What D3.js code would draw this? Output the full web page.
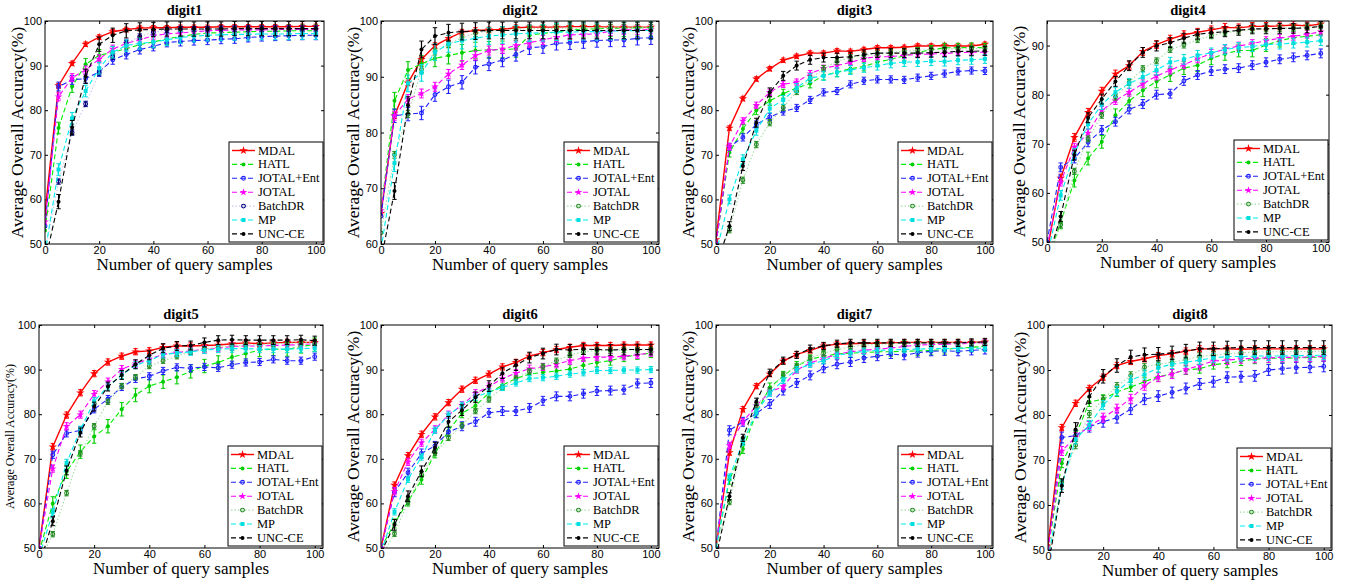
<!DOCTYPE html>
<html>
<head>
<meta charset="utf-8">
<script src="https://d3js.org/d3.v7.min.js"></script>
<style>
    body { margin: 0; background: #fff; }
    svg { display: block; }
</style>
</head>
<body>
<svg width="1346" height="580"></svg>
<script>
var samples = [0, 5, 10, 15, 20, 25, 30, 35, 40, 45, 50, 55, 60, 65, 70, 75, 80, 85, 90, 95, 100];
var xTicks = [0, 20, 40, 60, 80, 100];
var methods = ["MDAL", "HATL", "JOTAL+Ent", "JOTAL", "BatchDR", "MP", "UNC-CE"];
var methods6 = ["MDAL", "HATL", "JOTAL+Ent", "JOTAL", "BatchDR", "MP", "NUC-CE"];
var titles = ["digit1", "digit2", "digit3", "digit4", "digit5", "digit6", "digit7", "digit8"];
var yDomains = [[50, 100], [60, 100], [50, 100], [50, 95], [50, 100], [50, 100], [50, 100], [50, 100]];
var yTicks = [
    [50, 60, 70, 80, 90, 100], [60, 70, 80, 90, 100], [50, 60, 70, 80, 90, 100], [50, 60, 70, 80, 90],
    [50, 60, 70, 80, 90, 100], [50, 60, 70, 80, 90, 100], [50, 60, 70, 80, 90, 100], [50, 60, 70, 80, 90, 100]
];

// rows follow methods order: MDAL, HATL, JOTAL+Ent, JOTAL, BatchDR, MP, UNC-CE
var digit1 = [
    [57, 85.5, 90.5, 94.8, 96.4, 97.6, 98.1, 98.4, 98.5, 98.5, 98.6, 98.6, 98.6, 98.7, 98.7, 98.7, 98.7, 98.7, 98.7, 98.8, 98.8],
    [53, 76, 85.3, 90.3, 92.3, 93, 93.8, 94.7, 95.3, 96, 96.5, 97, 97.3, 97.4, 97.5, 97.6, 97.7, 97.7, 97.8, 97.8, 97.8],
    [54, 85.3, 86.8, 87.1, 88.6, 91.3, 92.5, 93.6, 94.3, 95.2, 95.4, 95.6, 95.7, 95.9, 96, 96.3, 96.5, 96.6, 96.7, 96.8, 96.8],
    [55, 83, 87.3, 89, 91.5, 93.7, 95, 95.8, 96.7, 97.1, 97.3, 97.6, 97.8, 97.9, 98, 98, 98, 98.1, 98.1, 98.1, 98.1],
    [48, 64, 75, 81.4, 88.3, 92, 95, 96.5, 97.5, 98, 98.2, 98.2, 98.2, 98.3, 98.3, 98.3, 98.3, 98.3, 98.3, 98.3, 98.3],
    [48, 66.7, 78.2, 84.3, 89.4, 93, 94.5, 95, 95.3, 95.8, 96.3, 96.6, 96.8, 96.9, 97, 97, 97.1, 97.1, 97.1, 97.2, 97.2],
    [46, 59.5, 76.1, 87.6, 94.8, 96.8, 97.8, 98, 98.1, 98.2, 98.2, 98.2, 98.2, 98.2, 98.3, 98.3, 98.3, 98.3, 98.3, 98.3, 98.3]
];
var digit2 = [
    [65.5, 83, 88.9, 93.1, 95.6, 96.9, 98, 98.3, 98.4, 98.5, 98.8, 98.9, 98.9, 98.9, 99, 99, 99, 98.9, 98.9, 98.9, 98.9],
    [66, 85.7, 91.2, 92.3, 93.3, 93.8, 94.3, 94.7, 94.8, 94.9, 95, 97.4, 97.8, 98, 98.4, 98.5, 98.6, 98.7, 98.7, 98.8, 98.8],
    [65, 83, 83.3, 83.5, 86.8, 88.2, 89, 91.7, 92.3, 93, 94, 95.2, 95.4, 96, 96.1, 96.3, 96.5, 96.6, 96.6, 96.9, 97],
    [66, 83, 86, 87, 88.2, 90.5, 92.1, 93.8, 94.7, 95, 95.6, 96.1, 96.6, 97.1, 97.5, 97.6, 97.7, 98.2, 98.4, 98.4, 98.5],
    [62, 76, 83.3, 91.3, 94.5, 95.8, 97, 97.8, 98.2, 98.3, 98.5, 98.6, 98.6, 98.7, 98.7, 98.7, 98.8, 98.8, 98.8, 98.8, 98.8],
    [59, 74.5, 88.8, 90.7, 94.4, 95.9, 96.5, 96.9, 97.3, 97.5, 97.7, 97.8, 97.9, 98, 98, 98.1, 98.1, 98.2, 98.2, 98.3, 98.3],
    [57, 69.5, 84.9, 94.9, 97.3, 97.9, 98.1, 98.2, 98.3, 98.3, 98.3, 98.3, 98.3, 98.3, 98.3, 98.3, 98.3, 98.3, 98.3, 98.3, 98.3]
];
var digit3 = [
    [51, 76, 82.6, 87, 89.3, 91.2, 92.1, 92.8, 92.8, 93.3, 93.2, 93.6, 94, 94, 94.1, 94.4, 94.4, 94.5, 94.4, 94.4, 94.8],
    [50, 70.5, 75.8, 80, 82.1, 83.7, 85, 86, 87.8, 88.5, 89.3, 89.8, 90.8, 91.4, 92.2, 93, 93.5, 94, 94, 94.1, 94],
    [50, 71.8, 73.9, 76.8, 78.5, 79.7, 80.5, 82.3, 84, 84.3, 85.8, 86.6, 86.9, 86.9, 86.8, 87.3, 87.7, 88.2, 88.7, 88.9, 88.8],
    [50, 71.8, 77.6, 81.1, 84, 85.8, 86.3, 88.2, 89.4, 90, 90.7, 91.6, 92, 92, 92.3, 92.5, 92.6, 92.7, 92.9, 93, 93],
    [46, 53.2, 64.3, 72.3, 77.2, 80.6, 84.2, 87, 89.3, 91, 91.8, 92.3, 92.6, 93, 93.2, 93.4, 93.6, 93.7, 93.8, 93.8, 93.8],
    [48, 60, 69, 75.4, 80.4, 82.3, 85, 87.2, 87.7, 88.5, 89, 89.5, 90, 90.5, 90.8, 90.8, 91, 90.9, 91.2, 91.3, 91.5],
    [45, 54, 67.5, 77.2, 84, 87.7, 90, 91.3, 91.8, 91.8, 92, 92.5, 92.8, 92.8, 92.8, 92.8, 92.9, 93, 93.2, 93.2, 93.3]
];
var digit4 = [
    [48, 63, 71.3, 76.4, 80.7, 84.2, 85.9, 88.8, 90.2, 91.3, 92.2, 92.7, 93.2, 93.7, 93.6, 93.9, 93.9, 94, 94.2, 94, 94.4],
    [46, 54, 62.5, 67, 70.4, 75.8, 78.7, 80.9, 82.7, 84, 85.4, 86, 87.4, 88.3, 89, 89, 90.1, 91, 91.6, 91.9, 92.2],
    [50, 65.2, 67, 70.3, 72.8, 74.5, 77, 78.1, 80, 80.2, 82.8, 84, 84.8, 85.2, 85.4, 86, 86.6, 87.2, 87.6, 88, 88.4],
    [49, 62.2, 69.3, 72.2, 76.8, 78.8, 80.5, 82.2, 83.8, 85, 86.1, 87.3, 88.4, 89.3, 89.9, 90.4, 91, 91.5, 91.9, 92.3, 92.8],
    [46, 53.5, 64.4, 71, 75.8, 79.5, 82.5, 85.3, 86.9, 89.2, 90.1, 91.2, 92, 92.6, 93, 93.3, 93.4, 93.5, 93.6, 93.8, 94],
    [47, 59.5, 68, 74, 78, 80.5, 82.3, 83.6, 85, 86.6, 87.2, 88, 88.5, 89.2, 89.6, 89.8, 90.2, 90.3, 90.5, 90.7, 91],
    [46, 55.2, 67.7, 75.3, 79.1, 82.7, 85.9, 88.6, 89.9, 90.6, 91.5, 92.3, 92.6, 92.8, 93.1, 93.4, 93.4, 93.5, 93.5, 93.6, 93.9]
];
var digit5 = [
    [50, 72.7, 79.8, 84.8, 89.1, 91.7, 93, 94, 94.2, 95, 95.3, 95.3, 95.4, 95.5, 95.8, 96, 95.8, 96, 96.1, 96.1, 96.1],
    [49, 60, 67.1, 71.6, 75, 77.3, 81.1, 84.3, 86.3, 87.3, 88.3, 89.6, 90.8, 91.6, 92.8, 93.6, 94.4, 94.6, 94.5, 95.2, 95.6],
    [50, 70.9, 75.7, 76.4, 81.1, 83.4, 86.1, 87.9, 88.5, 89.7, 90.5, 90.3, 90.6, 90.4, 91.1, 91.6, 91.7, 92.3, 92, 92, 92.9],
    [50, 67.8, 77.3, 79.9, 84.5, 87.3, 90.1, 91.3, 92.4, 93.4, 93.8, 94.2, 94.5, 94.8, 95.2, 95.3, 95.3, 95.4, 95.5, 95.6, 95.8],
    [47, 53.1, 62.3, 71.2, 77.3, 82.8, 86.3, 88.3, 90.8, 92, 93, 94, 94.6, 95, 95.3, 95.5, 95.6, 95.8, 95.9, 96, 96],
    [48, 58, 69.1, 76.5, 82.9, 86.2, 88.8, 91, 92, 93.4, 93.7, 94, 94.4, 94.6, 94.7, 94.7, 94.6, 94.6, 94.6, 94.7, 94.8],
    [46, 56, 67.4, 75.9, 81.7, 86.2, 88.8, 91.2, 93.2, 94.8, 95.3, 95.4, 96.1, 96.6, 96.7, 96.6, 96.6, 96.6, 96.6, 96.7, 96.5]
];
var digit6 = [
    [50, 64.1, 70.7, 75.5, 79.4, 82.6, 85.6, 87.6, 89, 90.6, 91.6, 93, 93.8, 94.5, 95, 95.4, 95.4, 95.4, 95.5, 95.5, 95.5],
    [50, 55.5, 60.4, 65.3, 71.2, 76.3, 80.2, 81.9, 84.8, 86.5, 88, 89, 89.4, 89.7, 90.1, 91, 91.6, 92, 92.8, 93.3, 93.7],
    [50, 62.5, 66.9, 71.2, 72.9, 76, 77.3, 78.3, 80.3, 80.7, 80.7, 81.4, 83, 84, 84, 84.6, 85.2, 85.3, 85.5, 86.9, 87],
    [50, 62.7, 69.3, 73.6, 76.6, 79.9, 82, 84.7, 86.2, 88, 89.2, 90.2, 90.6, 91.2, 92, 92.6, 92.8, 92.8, 93, 93.3, 93.8],
    [48, 53.2, 60.3, 66.5, 71.3, 74.7, 77.5, 80.7, 83.3, 86, 88, 89.6, 90.7, 92, 93.3, 94, 94.3, 94.3, 94.4, 94.4, 94.4],
    [49, 58.1, 65.4, 70.4, 76.4, 79.8, 82, 83.8, 85, 86, 87, 88, 88.2, 88.5, 89, 89.3, 89.8, 89.8, 89.9, 89.9, 90],
    [49, 55.2, 61.6, 67.2, 72.5, 78.3, 80.9, 83.8, 86.3, 89.2, 91, 92.7, 93.6, 94.5, 94.4, 94.6, 94.5, 94.4, 94.5, 94.5, 94.5]
];
var digit7 = [
    [50, 71.4, 81.1, 86.3, 89, 91.9, 93.4, 94.3, 95.3, 95.7, 95.8, 95.9, 95.9, 96, 96.1, 96.1, 96.1, 96.1, 96.1, 96.1, 96.2],
    [50, 65.3, 72.2, 80.3, 86, 88.6, 90.8, 92.3, 93, 93.5, 93.7, 93.8, 94, 94, 94.1, 94.2, 94.3, 94.5, 94.8, 95, 95.2],
    [50, 76.4, 78.3, 80.2, 82.3, 85.3, 87, 88.7, 90.3, 91.2, 91.7, 92.6, 93, 93.5, 93.2, 93.8, 94.1, 94.2, 94.1, 94.3, 94.5],
    [50, 73, 78.3, 81.9, 85, 86.2, 89.9, 91.5, 92.5, 93.4, 94, 94.3, 94.6, 94.8, 95.2, 95.5, 95.6, 95.7, 95.8, 95.9, 96],
    [50, 60.3, 74, 81.9, 85.4, 88.8, 90.8, 92.6, 93.7, 94.5, 95.1, 95.5, 95.7, 95.8, 95.9, 96, 96, 96, 96, 96, 96],
    [50, 65.9, 73.7, 80.5, 84.7, 87.6, 90, 91.2, 92, 93.2, 93.7, 94.1, 94.3, 94.4, 94.5, 94.6, 94.7, 94.7, 94.8, 94.8, 94.8],
    [48, 61.6, 74.7, 82.8, 89.3, 92, 93.3, 94.7, 95.3, 95.8, 96, 96, 96, 96, 96, 96, 96, 96, 96, 96.1, 96.2]
];
var digit8 = [
    [51, 77.2, 82.6, 85.9, 88.4, 91, 91.9, 92.5, 93.2, 93.6, 94.2, 94.7, 94.7, 94.7, 94.6, 94.7, 94.7, 94.7, 94.7, 94.7, 94.7],
    [50, 69.3, 75.4, 82.9, 83.5, 85.1, 86.2, 87.4, 88.5, 89.2, 90, 90.3, 91.2, 91.5, 92, 92.4, 92.6, 92.6, 92.7, 92.8, 92.9],
    [50, 75, 75.4, 77.4, 78.5, 79.4, 81.3, 83.5, 84.2, 85, 85.9, 86.9, 87.4, 88.4, 88.5, 88.7, 90, 90.3, 90.5, 90.6, 90.8],
    [50, 72, 75.1, 77.6, 79.4, 81.4, 83.6, 86.5, 88.4, 89.1, 90.1, 91, 92, 92.2, 92.5, 92.6, 92.7, 92.8, 92.8, 92.9, 93],
    [48, 65, 73.3, 80.2, 83.5, 86.4, 88.8, 90.6, 91.3, 91.7, 92.3, 93, 93.3, 93.6, 93.8, 94, 94, 94.1, 94.1, 94.1, 94.2],
    [48, 64.5, 74.6, 77.8, 82.2, 85.3, 87.7, 89, 90.5, 91.3, 91.7, 92.2, 92.7, 93, 93, 93.1, 93.1, 93.1, 93.2, 93.2, 93.3],
    [46, 64.3, 76.8, 84.1, 88.6, 91, 92.9, 93.4, 93.5, 93.8, 94.2, 94.7, 94.7, 94.9, 95, 95, 95, 95, 95, 95, 95]
];

// error bar half-lengths, one per method, per panel
var errors = [
    [0.5, 1.3, 1, 0.9, 0.6, 1.3, 1.6],
    [0.5, 1.5, 1.2, 0.8, 0.6, 1.5, 1.5],
    [0.5, 1, 0.8, 0.7, 0.7, 1, 1],
    [0.8, 1.3, 0.9, 0.8, 0.6, 1, 1],
    [0.7, 1.5, 0.8, 0.8, 0.6, 0.8, 1],
    [0.7, 1, 1, 0.8, 0.6, 0.7, 1.2],
    [0.6, 1, 1, 0.7, 0.6, 0.7, 0.8],
    [0.7, 1, 1.2, 1, 0.8, 1, 1.5]
];

var datasets = [digit1, digit2, digit3, digit4, digit5, digit6, digit7, digit8];

// plot boxes [left, top, right, bottom]
var boxes = [
    [45, 21, 324, 244], [381, 21, 659, 244], [716, 21, 993, 244], [1047, 21, 1329, 242],
    [39, 325, 323, 548], [381, 325, 659, 548], [716, 325, 993, 548], [1048, 325, 1332, 550]
];

var lineColors = ["#ff0000", "#00ee00", "#2020ff", "#ff00ff", "#a8dca8", "#00eeee", "#000000"];
var markColors = ["#ff0000", "#00cc00", "#2020ff", "#ff00ff", "#228b22", "#00dddd", "#000000"];
var dashes = [null, "5,3", "5,3", "5,3", "1.5,2", "5,3", "5,3"];

var svg = d3.select("svg");

function marker(g, k, cx, cy, col) {
    if (k === 0) {
        g.append("path").attr("d", d3.symbol(d3.symbolStar, 22)())
            .attr("transform", "translate(" + cx + "," + cy + ")").attr("fill", col);
    } else if (k === 2 || k === 4) {
        g.append("circle").attr("cx", cx).attr("cy", cy).attr("r", 1.9)
            .attr("fill", "none").attr("stroke", col).attr("stroke-width", 1.1);
    } else if (k === 5) {
        g.append("rect").attr("x", cx - 2).attr("y", cy - 2).attr("width", 4).attr("height", 4).attr("fill", col);
    } else if (k === 3) {
        g.append("path").attr("d", d3.symbol(d3.symbolStar, 18)())
            .attr("transform", "translate(" + cx + "," + cy + ")").attr("fill", col);
    } else {
        g.append("circle").attr("cx", cx).attr("cy", cy).attr("r", 2).attr("fill", col);
    }
}

datasets.forEach(function (data, pi) {
    var b = boxes[pi],
        left = b[0], top = b[1], right = b[2], bottom = b[3];
    var x = d3.scaleLinear().domain([0, 103]).range([left, right]);
    var y = d3.scaleLinear().domain(yDomains[pi]).range([bottom, top]);
    var labels = pi === 5 ? methods6 : methods;

    var g = svg.append("g");

    g.append("clipPath").attr("id", "clip" + pi)
        .append("rect").attr("x", left).attr("y", top).attr("width", right - left).attr("height", bottom - top);

    // axes with inward ticks
    g.append("g").attr("transform", "translate(0," + bottom + ")")
        .call(d3.axisBottom(x).tickValues(xTicks).tickSize(-3).tickPadding(2))
        .call(function (a) { a.select(".domain").remove(); });
    g.append("g").attr("transform", "translate(0," + top + ")")
        .call(d3.axisTop(x).tickValues(xTicks).tickSize(-3).tickFormat(""))
        .call(function (a) { a.select(".domain").remove(); });
    g.append("g").attr("transform", "translate(" + left + ",0)")
        .call(d3.axisLeft(y).tickValues(yTicks[pi]).tickSize(-3).tickPadding(3))
        .call(function (a) { a.select(".domain").remove(); });
    g.append("g").attr("transform", "translate(" + right + ",0)")
        .call(d3.axisRight(y).tickValues(yTicks[pi]).tickSize(-3).tickFormat(""))
        .call(function (a) { a.select(".domain").remove(); });
    g.selectAll(".tick text")
        .attr("font-family", "'Liberation Sans', Arial, sans-serif")
        .attr("font-size", 11).attr("fill", "#000");
    g.selectAll(".tick line").attr("stroke", "#000");

    var plot = g.append("g").attr("clip-path", "url(#clip" + pi + ")");
    var line = d3.line()
        .x(function (d, i) { return x(samples[i]); })
        .y(function (d) { return y(d); });

    data.forEach(function (series, k) {
        var lc = lineColors[k], mc = markColors[k];
        if (pi === 0 && k === 4) { lc = "#c8c8f0"; mc = "#000080"; }
        plot.append("path").datum(series)
            .attr("d", line)
            .attr("fill", "none")
            .attr("stroke", lc)
            .attr("stroke-width", k === 0 ? 1.4 : 1.1)
            .attr("stroke-dasharray", dashes[k]);
        var e = errors[pi][k];
        series.forEach(function (v, i) {
            var cx = x(samples[i]);
            if (i > 0) {
                var y0 = y(v - e), y1 = y(v + e);
                plot.append("line").attr("x1", cx).attr("x2", cx).attr("y1", y0).attr("y2", y1)
                    .attr("stroke", mc).attr("stroke-width", 1.2);
                plot.append("line").attr("x1", cx - 2.2).attr("x2", cx + 2.2).attr("y1", y0).attr("y2", y0)
                    .attr("stroke", mc).attr("stroke-width", 1);
                plot.append("line").attr("x1", cx - 2.2).attr("x2", cx + 2.2).attr("y1", y1).attr("y2", y1)
                    .attr("stroke", mc).attr("stroke-width", 1);
            }
            marker(plot, k, cx, y(v), mc);
        });
    });

    // frame
    g.append("rect").attr("x", left).attr("y", top)
        .attr("width", right - left).attr("height", bottom - top)
        .attr("fill", "none").attr("stroke", "#000").attr("stroke-width", 1);

    // title and axis labels
    g.append("text").attr("x", (left + right) / 2).attr("y", top - 6)
        .attr("text-anchor", "middle")
        .attr("font-family", "'Liberation Serif', 'Times New Roman', serif")
        .attr("font-weight", "bold").attr("font-size", 14.5)
        .text(titles[pi]);
    g.append("text").attr("x", (left + right) / 2).attr("y", bottom + 26)
        .attr("text-anchor", "middle")
        .attr("font-family", "'Liberation Serif', 'Times New Roman', serif")
        .attr("font-size", 17)
        .text("Number of query samples");
    var small = pi === 4;
    g.append("text")
        .attr("transform", "translate(" + (left - (small ? 25 : 22)) + "," + (top + bottom) / 2 + ") rotate(-90)")
        .attr("text-anchor", "middle")
        .attr("font-family", "'Liberation Serif', 'Times New Roman', serif")
        .attr("font-size", small ? 12 : 17.5)
        .text("Average Overall Accuracy(%)");

    // legend
    var lw = 94, lh = 100,
        lx = right - 1 - lw, ly = bottom - 2 - lh;
    var leg = g.append("g");
    leg.append("rect").attr("x", lx).attr("y", ly).attr("width", lw).attr("height", lh)
        .attr("fill", "#fff").attr("stroke", "#000").attr("stroke-width", 1);
    labels.forEach(function (name, k) {
        var ry = ly + 8.5 + k * 13.9;
        var lc = lineColors[k], mc = markColors[k];
        if (pi === 0 && k === 4) { lc = "#c8c8f0"; mc = "#000080"; }
        leg.append("line").attr("x1", lx + 3).attr("x2", lx + 26).attr("y1", ry).attr("y2", ry)
            .attr("stroke", lc).attr("stroke-width", k === 0 ? 1.4 : 1.1)
            .attr("stroke-dasharray", dashes[k]);
        marker(leg, k, lx + 14.5, ry, mc);
        leg.append("text").attr("x", lx + 29).attr("y", ry + 4)
            .attr("font-family", "'Liberation Serif', 'Times New Roman', serif")
            .attr("font-size", 12.5)
            .text(name);
    });
});
</script>
</body>
</html>
